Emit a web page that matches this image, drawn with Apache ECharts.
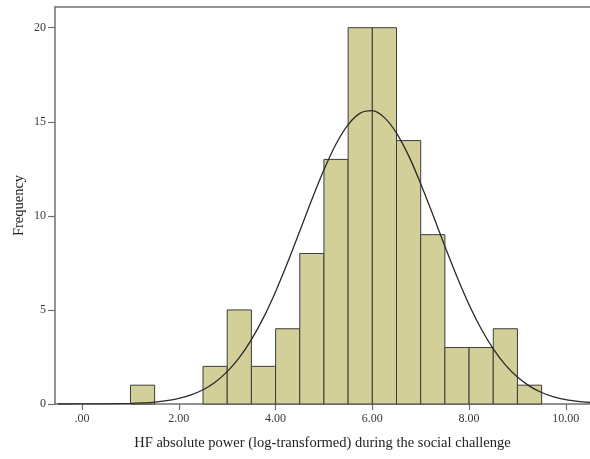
<!DOCTYPE html>
<html>
<head>
<meta charset="utf-8">
<script src="https://cdn.jsdelivr.net/npm/echarts@6/dist/echarts.min.js"></script>
<style>html,body{margin:0;padding:0;background:#fff}#c{width:590px;height:459px}</style>
</head>
<body>
<div id="c"></div>
<script>
// Histogram bins (start of each 0.5-wide bin) and frequencies
var binStarts = [1.0, 2.5, 3.0, 3.5, 4.0, 4.5, 5.0, 5.5, 6.0, 6.5, 7.0, 7.5, 8.0, 8.5, 9.0];
var binWidth = 0.5;
var counts = [1, 2, 5, 2, 4, 8, 13, 20, 20, 14, 9, 3, 3, 4, 1];

// Normal curve, values
var curveX = [-0.5, 0, 0.5, 1, 1.25, 1.5, 1.75, 2, 2.25, 2.5, 2.75, 3, 3.25, 3.5, 3.75, 4, 4.25, 4.5, 4.75, 5, 5.25, 5.5, 5.75, 6, 6.25, 6.5, 6.75, 7, 7.25, 7.5, 7.75, 8, 8.25, 8.5, 8.75, 9, 9.25, 9.5, 9.75, 10, 10.25, 10.5];
var curveY = [0.0003, 0.002, 0.008, 0.031, 0.057, 0.10, 0.18, 0.30, 0.48, 0.76, 1.16, 1.72, 2.46, 3.42, 4.59, 5.97, 7.53, 9.19, 10.87, 12.45, 13.82, 14.85, 15.46, 15.59, 15.22, 14.40, 13.20, 11.71, 10.07, 8.38, 6.76, 5.28, 4.00, 2.93, 2.08, 1.43, 0.95, 0.61, 0.38, 0.23, 0.14, 0.08];

// Tick labels
var xTicks = [0, 2, 4, 6, 8, 10];
var yTicks = [0, 5, 10, 15, 20];

var binData = binStarts.map(function (s, i) { return [s, s + binWidth, counts[i]]; });
var curveData = curveX.map(function (x, i) { return [x, curveY[i]]; });

var chart = echarts.init(document.getElementById('c'));
var font = '"Liberation Serif", "Times New Roman", serif';
var axisCol = '#707070';
chart.setOption({
  animation: false,
  grid: { left: 55, top: 7, right: 0, bottom: 55 },
  xAxis: [{
    type: 'value', min: -0.56, max: 10.5,
    splitLine: { show: false },
    axisLine: { show: true, onZero: false, lineStyle: { color: axisCol, width: 1.5 } },
    axisTick: { show: true, length: 6, customValues: xTicks, lineStyle: { color: axisCol, width: 1.2 } },
    axisLabel: { customValues: xTicks, color: '#3a3a3a', fontFamily: font, fontSize: 12, margin: 9,
      formatter: function (v) { return v === 0 ? '.00' : v.toFixed(2); } },
    name: 'HF absolute power (log-transformed) during the social challenge',
    nameLocation: 'middle', nameGap: 32, nameMoveOverlap: false,
    nameTextStyle: { color: '#222', fontFamily: font, fontSize: 14.5 }
  }, {
    type: 'value', position: 'top', min: -0.56, max: 10.5,
    splitLine: { show: false },
    axisLine: { show: true, onZero: false, lineStyle: { color: axisCol, width: 1.5 } },
    axisTick: { show: false }, axisLabel: { show: false }
  }],
  yAxis: {
    type: 'value', min: 0, max: 21.1,
    splitLine: { show: false },
    axisLine: { show: true, onZero: false, lineStyle: { color: axisCol, width: 1.5 } },
    axisTick: { show: true, length: 7, customValues: yTicks, lineStyle: { color: axisCol, width: 1.2 } },
    axisLabel: { customValues: yTicks, color: '#3a3a3a', fontFamily: font, fontSize: 12, margin: 9 },
    name: 'Frequency', nameLocation: 'middle', nameGap: 28, nameMoveOverlap: false,
    nameTextStyle: { color: '#222', fontFamily: font, fontSize: 14.5 }
  },
  series: [{
    type: 'custom',
    data: binData,
    encode: { x: [0, 1], y: 2 },
    renderItem: function (params, api) {
      var p0 = api.coord([api.value(0), 0]);
      var p1 = api.coord([api.value(1), api.value(2)]);
      return {
        type: 'rect',
        shape: { x: p0[0], y: p1[1], width: p1[0] - p0[0], height: p0[1] - p1[1] },
        style: { fill: '#d3cf98', stroke: '#3c3c3c', lineWidth: 1 }
      };
    }
  }, {
    type: 'line',
    data: curveData,
    smooth: 0.3,
    showSymbol: false,
    lineStyle: { color: '#2a2a2a', width: 1.3 },
    z: 5
  }]
});
</script>
</body>
</html>
